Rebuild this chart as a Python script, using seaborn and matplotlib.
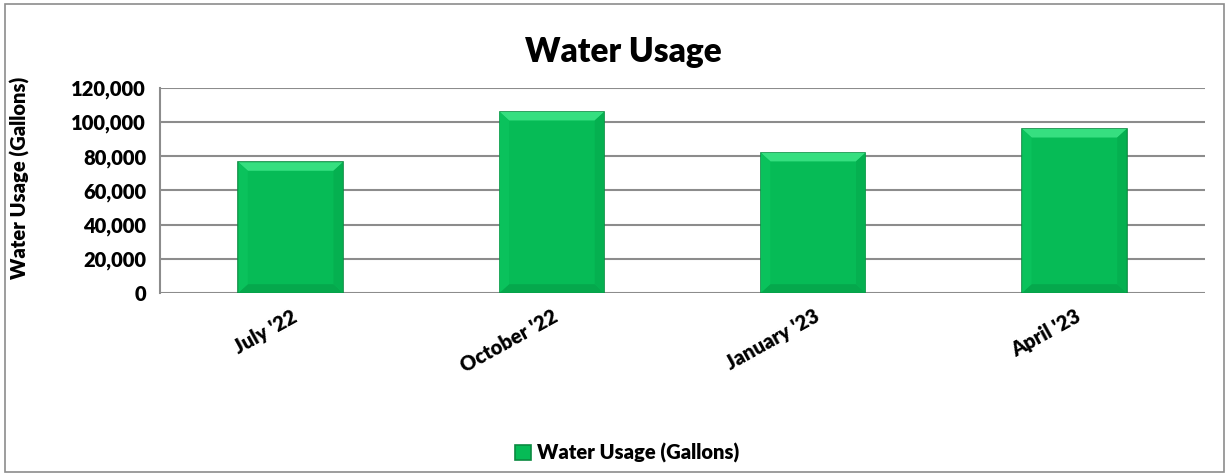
import matplotlib
matplotlib.use("Agg")
import matplotlib.pyplot as plt
import seaborn as sns
import pandas as pd
from matplotlib.patches import Rectangle, Polygon
from matplotlib.ticker import FuncFormatter

months = ["July '22", "October '22", "January '23", "April '23"]
usage = [76500, 106000, 82000, 96000]
series_name = "Water Usage (Gallons)"

sns.set_style("white")
plt.rcParams['font.family'] = ['Lato', 'DejaVu Sans']
plt.rcParams['font.weight'] = 'heavy'
plt.rcParams['text.color'] = 'black'
plt.rcParams['axes.labelcolor'] = 'black'
plt.rcParams['xtick.color'] = 'black'
plt.rcParams['ytick.color'] = 'black'
W = 'heavy'

df = pd.DataFrame({"Month": months, series_name: usage})

fig = plt.figure(figsize=(12.29, 4.76), dpi=100)
ax = fig.add_axes([0.1302, 0.385, 0.8503, 0.43])

sns.barplot(data=df, x="Month", y=series_name, ax=ax, color="#06BB56",
            width=0.4, saturation=1, edgecolor="#0B8A41", linewidth=1.2,
            label=series_name)

# bevel highlights derived from bar geometry
for p in list(ax.patches):
    x0, y0 = p.get_x(), p.get_y()
    w, h = p.get_width(), p.get_height()
    top = y0 + h
    dy = 5000
    dx = w * 0.09
    z = p.get_zorder() + 0.1
    ax.add_patch(Polygon([(x0, top), (x0 + w, top), (x0 + w - dx, top - dy), (x0 + dx, top - dy)],
                         closed=True, facecolor="#36DF80", edgecolor="none", zorder=z))
    ax.add_patch(Polygon([(x0, y0), (x0 + w, y0), (x0 + w - dx, y0 + dy), (x0 + dx, y0 + dy)],
                         closed=True, facecolor="#05A84C", edgecolor="none", zorder=z))
    ax.add_patch(Polygon([(x0 + w, y0), (x0 + w, top), (x0 + w - dx, top - dy), (x0 + w - dx, y0 + dy)],
                         closed=True, facecolor="#05B050", edgecolor="none", zorder=z))
    ax.add_patch(Polygon([(x0, y0), (x0, top), (x0 + dx, top - dy), (x0 + dx, y0 + dy)],
                         closed=True, facecolor="#0AC25C", edgecolor="none", zorder=z))

ax.set_ylim(0, 120000)
ax.set_yticks(range(0, 120001, 20000))
ax.yaxis.set_major_formatter(FuncFormatter(lambda v, _: f"{int(v):,}"))
ax.grid(axis="y", color="#8C8C8C", linewidth=1.5)
ax.set_axisbelow(True)
for s in ["top", "right", "bottom"]:
    ax.spines[s].set_visible(False)
ax.spines["left"].set_color("#8C8C8C")
ax.spines["left"].set_linewidth(1.5)
ax.tick_params(axis="y", length=6, width=1.5, color="#8C8C8C", labelcolor="black", labelsize=14.5, pad=4)
ax.tick_params(axis="x", length=0, labelsize=14.5, labelcolor="black", pad=10)
for lbl in ax.get_yticklabels():
    lbl.set_fontweight(W)
for lbl in ax.get_xticklabels():
    lbl.set_rotation(29)
    lbl.set_ha("right")
    lbl.set_rotation_mode("anchor")
    lbl.set_fontweight(W)
ax.set_xlabel("")
ax.set_ylabel(series_name, fontsize=14.5, fontweight=W, color="black")
ax.yaxis.set_label_coords(-0.124, 0.56)

fig.text(0.507, 0.89, "Water Usage", fontsize=24, fontweight=W, ha="center", va="center", color="black")

handles, labels = ax.get_legend_handles_labels()
if ax.get_legend():
    ax.get_legend().remove()
fig.legend(handles[:1], labels[:1], loc="center", bbox_to_anchor=(0.51, 0.048), frameon=False,
           prop={"size": 14.5, "weight": W}, handlelength=0.8, handleheight=0.8, handletextpad=0.3)

fig.patches.append(Rectangle((0.004, 0.008), 0.992, 0.984, transform=fig.transFigure,
                             fill=False, edgecolor="#8C8C8C", linewidth=1.2))

fig.savefig("out.png", dpi=100, facecolor="white")
